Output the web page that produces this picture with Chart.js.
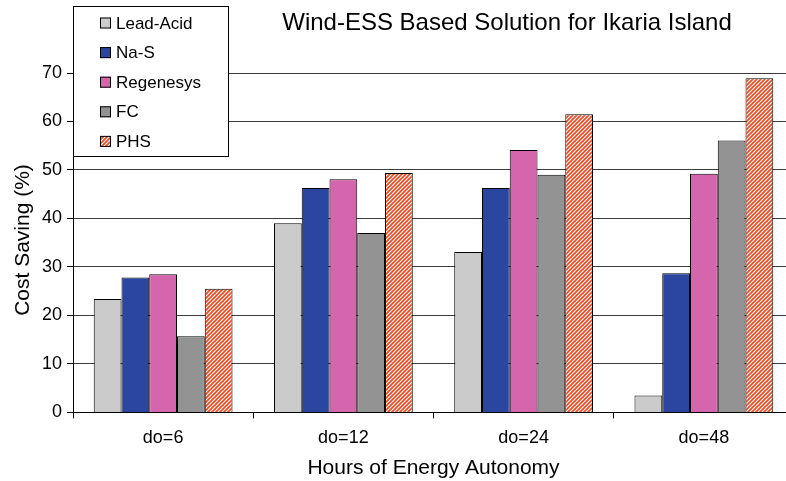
<!DOCTYPE html>
<html>
<head>
<meta charset="utf-8">
<script src="https://cdn.jsdelivr.net/npm/chart.js@4.4.1/dist/chart.umd.min.js"></script>
<style>
  html, body { margin: 0; padding: 0; background: #fff; overflow: hidden; }
  #wrap { width: 794px; height: 481px; }
</style>
</head>
<body>
<div id="wrap"><canvas id="costChart" width="794" height="481"></canvas></div>
<script>
const categories = ['do=6', 'do=12', 'do=24', 'do=48'];
const seriesNames = ['Lead-Acid', 'Na-S', 'Regenesys', 'FC', 'PHS'];
const leadAcid = [23.4, 39.0, 33.1, 3.5];
const naS = [27.8, 46.3, 46.3, 28.7];
const regenesys = [28.5, 48.1, 54.1, 49.2];
const fc = [15.7, 37.0, 49.0, 56.1];
const phs = [25.5, 49.4, 61.5, 68.9];
const yTicks = [0, 10, 20, 30, 40, 50, 60, 70];

// hatched fill for PHS
function hatch() {
  const c = document.createElement('canvas');
  c.width = 4; c.height = 4;
  const g = c.getContext('2d');
  g.fillStyle = '#ffffff';
  g.fillRect(0, 0, 4, 4);
  g.strokeStyle = '#f0441a';
  g.lineWidth = 1.6;
  g.beginPath();
  g.moveTo(-1, 5); g.lineTo(5, -1);
  g.moveTo(-1, 1); g.lineTo(1, -1);
  g.moveTo(3, 5); g.lineTo(5, 3);
  g.stroke();
  return g.createPattern(c, 'repeat');
}

const colors = ['#cbcbcb', '#2b46a0', '#d565ad', '#939393', hatch()];
const values = [leadAcid, naS, regenesys, fc, phs];

const font = "'Liberation Sans', Arial, sans-serif";

const overlay = {
  id: 'overlay',
  afterDraw(chart) {
    const ctx = chart.ctx;
    ctx.save();
    // title
    ctx.fillStyle = '#000';
    ctx.font = '24px ' + font;
    ctx.textAlign = 'center';
    ctx.textBaseline = 'middle';
    ctx.fillText('Wind-ESS Based Solution for Ikaria Island', 507, 23);

    // y axis title
    ctx.save();
    ctx.translate(23, 240);
    ctx.rotate(-Math.PI / 2);
    ctx.font = '21px ' + font;
    ctx.fillText('Cost Saving (%)', 0, 0);
    ctx.restore();

    // legend box
    const left = chart.chartArea.left;
    ctx.fillStyle = '#fff';
    ctx.fillRect(left, 6, 155, 150);
    ctx.strokeStyle = '#000';
    ctx.lineWidth = 1;
    ctx.strokeRect(left + 0.5, 6.5, 155, 150);
    ctx.font = '17px ' + font;
    ctx.textAlign = 'left';
    chart.data.datasets.forEach((ds, i) => {
      const cy = 23 + i * 29.6;
      ctx.fillStyle = ds.backgroundColor;
      ctx.fillRect(left + 27, cy - 5.5, 11, 11);
      ctx.strokeStyle = '#000';
      ctx.strokeRect(left + 27.5, cy - 5, 10, 10);
      ctx.fillStyle = '#000';
      ctx.fillText(ds.label, left + 43, cy + 1);
    });
    ctx.restore();
  }
};

new Chart(document.getElementById('costChart'), {
  type: 'bar',
  data: {
    labels: categories,
    datasets: seriesNames.map((name, i) => ({
      label: name,
      data: values[i],
      backgroundColor: colors[i],
      borderColor: '#000',
      borderWidth: 1,
      categoryPercentage: 0.77,
      barPercentage: 1.0
    }))
  },
  options: {
    responsive: false,
    animation: false,
    layout: { padding: { top: 5, right: 0, left: 0, bottom: 2 } },
    plugins: {
      legend: { display: false },
      tooltip: { enabled: false },
      title: { display: false }
    },
    scales: {
      x: {
        grid: { display: true, drawOnChartArea: false, color: '#000', tickLength: 6, offset: true },
        border: { color: '#000' },
        ticks: { color: '#000', font: { family: font, size: 18 }, padding: 9 },
        title: { display: true, text: 'Hours of Energy Autonomy', color: '#000', font: { family: font, size: 21, lineHeight: 1.0 }, padding: { top: 0, bottom: 0 } }
      },
      y: {
        min: 0,
        max: 81.8,
        afterBuildTicks: (scale) => { scale.ticks = yTicks.map(v => ({ value: v })); },
        afterFit: (scale) => { scale.width = 73; },
        grid: { color: '#3c3c3c', tickLength: 6, tickColor: '#000' },
        border: { color: '#000' },
        ticks: { color: '#000', font: { family: font, size: 18 }, padding: 5 },
        title: { display: false }
      }
    }
  },
  plugins: [overlay]
});
</script>
</body>
</html>
